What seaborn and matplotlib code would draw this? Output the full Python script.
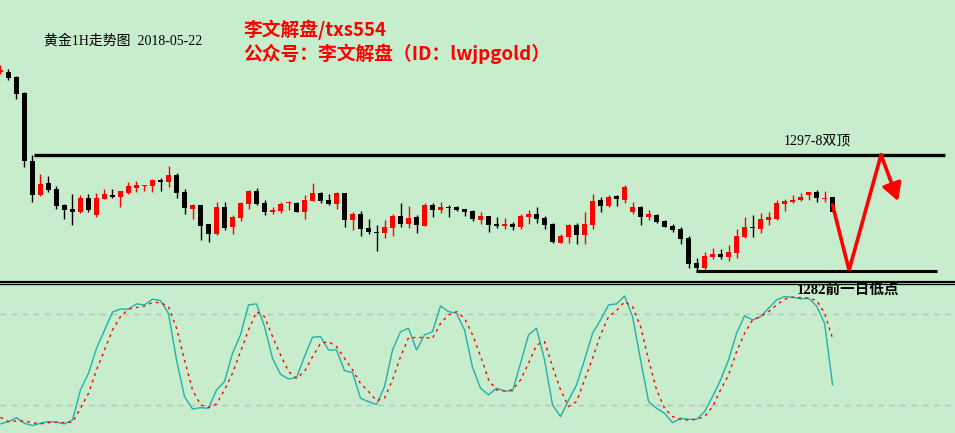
import numpy as np
import matplotlib
matplotlib.use("Agg")
import matplotlib.pyplot as plt
import seaborn as sns

# ---- data (gold 1H, 2018-05-22) ----
opens = [1308.5, 1308.5, 1307.9, 1305.7, 1296.7, 1292.1, 1293.7, 1292.9, 1290.8, 1290.3,
         1289.9, 1291.7, 1289.5, 1291.6, 1292.1, 1291.9, 1292.4, 1293.1, 1293.3, 1293.3,
         1294.1, 1293.9, 1294.8, 1292.5, 1290.3, 1290.8, 1288.3, 1286.9, 1290.5, 1287.9,
         1289.1, 1290.9, 1292.7, 1291.1, 1289.9, 1290.0, 1291.1, 1291.1, 1289.9, 1291.3,
         1292.4, 1291.5, 1290.9, 1292.4, 1288.8, 1289.6, 1287.7, 1287.2, 1287.1, 1287.7,
         1289.3, 1288.3, 1289.2, 1288.0, 1290.8, 1290.1, 1290.5, 1290.5, 1290.3, 1290.0,
         1288.8, 1289.3, 1288.3, 1288.0, 1288.3, 1287.9, 1289.2, 1289.6, 1289.1, 1288.3,
         1285.7, 1286.5, 1288.1, 1286.8, 1288.1, 1291.5, 1290.7, 1292.0, 1291.5, 1289.9,
         1290.5, 1289.2, 1289.5, 1288.7, 1288.0, 1287.6, 1286.4, 1283.1, 1282.4, 1283.9,
         1284.3, 1283.9, 1284.4, 1286.5, 1287.9, 1287.6, 1288.8, 1288.9, 1290.9, 1291.2,
         1291.5, 1292.1, 1292.5, 1291.6, 1291.9]
highs = [1309.5, 1308.9, 1308.0, 1305.9, 1297.5, 1294.9, 1294.7, 1293.3, 1290.9, 1292.3,
         1292.1, 1292.3, 1292.4, 1292.9, 1292.9, 1292.7, 1293.9, 1294.0, 1293.5, 1294.3,
         1294.4, 1296.0, 1295.1, 1292.9, 1290.9, 1290.8, 1288.3, 1291.2, 1291.2, 1289.5,
         1291.2, 1292.8, 1293.1, 1291.5, 1290.5, 1291.2, 1291.3, 1291.2, 1292.1, 1293.7,
         1292.5, 1292.3, 1292.5, 1292.4, 1289.9, 1290.0, 1288.9, 1288.1, 1288.8, 1289.6,
         1291.1, 1290.7, 1289.5, 1291.1, 1291.1, 1291.2, 1290.8, 1290.7, 1290.3, 1290.1,
         1289.9, 1289.3, 1289.2, 1289.1, 1288.5, 1289.6, 1290.1, 1290.5, 1289.3, 1288.4,
         1286.9, 1288.3, 1288.4, 1289.9, 1292.3, 1291.9, 1292.1, 1292.1, 1293.5, 1291.2,
         1290.7, 1290.1, 1289.6, 1288.8, 1288.3, 1287.9, 1286.7, 1283.7, 1284.5, 1285.1,
         1284.9, 1285.5, 1287.6, 1289.2, 1289.5, 1289.7, 1289.9, 1291.5, 1291.6, 1292.1,
         1292.4, 1292.5, 1292.8, 1292.7, 1291.9]
lows = [1308.3, 1307.5, 1304.9, 1295.9, 1291.2, 1292.0, 1292.5, 1290.3, 1288.9, 1288.1,
        1289.7, 1289.9, 1289.2, 1291.6, 1291.7, 1290.5, 1292.3, 1292.5, 1292.7, 1292.5,
        1292.7, 1293.2, 1291.7, 1289.6, 1288.9, 1286.1, 1285.9, 1286.8, 1287.5, 1286.9,
        1288.7, 1290.3, 1290.8, 1289.5, 1289.6, 1289.7, 1290.1, 1289.9, 1288.9, 1291.3,
        1291.1, 1290.8, 1290.3, 1287.9, 1287.5, 1286.7, 1286.9, 1284.7, 1286.4, 1286.7,
        1287.9, 1287.7, 1287.1, 1288.0, 1289.2, 1289.7, 1289.2, 1290.0, 1289.3, 1288.7,
        1288.3, 1287.2, 1287.7, 1287.6, 1287.5, 1287.6, 1288.3, 1288.4, 1287.6, 1285.7,
        1285.7, 1285.7, 1285.6, 1285.6, 1287.6, 1289.9, 1290.5, 1290.7, 1291.1, 1289.6,
        1288.1, 1288.8, 1288.4, 1287.9, 1287.2, 1285.6, 1282.4, 1281.9, 1282.0, 1283.6,
        1283.6, 1283.3, 1283.7, 1286.4, 1286.5, 1287.1, 1288.1, 1288.8, 1290.0, 1291.1,
        1291.3, 1291.5, 1291.2, 1291.2, 1289.9]
closes = [1308.8, 1307.7, 1305.6, 1296.7, 1292.1, 1293.6, 1292.8, 1290.7, 1290.1, 1289.9,
          1291.7, 1290.1, 1291.7, 1292.3, 1291.9, 1292.7, 1293.3, 1293.5, 1293.5, 1294.1,
          1293.9, 1294.8, 1292.4, 1290.4, 1290.8, 1288.0, 1286.9, 1290.5, 1287.7, 1289.2,
          1291.1, 1292.7, 1290.9, 1289.9, 1290.1, 1290.9, 1291.2, 1289.9, 1291.5, 1292.4,
          1291.3, 1290.9, 1292.4, 1288.8, 1289.6, 1287.6, 1287.2, 1287.1, 1287.9, 1289.3,
          1288.3, 1289.1, 1288.1, 1290.8, 1290.1, 1290.5, 1290.4, 1290.1, 1289.9, 1288.9,
          1289.3, 1288.1, 1288.0, 1288.3, 1287.9, 1289.3, 1289.6, 1288.9, 1288.1, 1285.9,
          1286.7, 1288.1, 1286.8, 1288.3, 1291.3, 1290.7, 1291.9, 1291.6, 1293.2, 1290.5,
          1289.2, 1289.6, 1288.5, 1287.9, 1287.5, 1286.3, 1282.9, 1282.4, 1284.0, 1284.3,
          1283.9, 1284.5, 1286.7, 1287.9, 1287.7, 1288.9, 1289.2, 1291.1, 1291.3, 1291.5,
          1291.9, 1292.5, 1291.7, 1291.7, 1289.9]

# stochastic %K / %D
stoch_k = [7.3, 8.8, 11.4, 7.7, 6.2, 7.7, 8.8, 8.4, 7.3, 9.9,
           29.7, 40.7, 57, 69, 81, 83, 83, 86.4, 85.7, 89.5,
           88.6, 80, 49.5, 25.3, 17.1, 18, 17.6, 29.7, 35.2, 53.8,
           66, 85.7, 86.4, 71.4, 50.5, 40, 36.9, 37.8, 51.6, 64.4,
           64.8, 56, 56, 42.4, 41.1, 24.2, 22, 20, 31.9, 56,
           68.1, 70.3, 56, 66, 68.1, 85, 81.3, 80.2, 69.2, 44.6,
           30.8, 26.4, 30.8, 29, 29, 47.3, 66, 70.3, 49.5, 19.8,
           12.1, 23, 33, 49.5, 67, 75.8, 85.7, 86.4, 91.6, 78,
           49.5, 22, 17.6, 14.3, 8.1, 11, 10.3, 10.3, 15.4, 25.3,
           36.3, 49.5, 67, 78.5, 75.8, 78, 83.5, 89, 91.2, 90.8,
           89.7, 90.1, 85, 73.6, 33]
stoch_d = [11.6, 8.8, 9.2, 9.2, 8.1, 7.3, 8.1, 8.4, 8.1, 8.4,
           17.6, 27.5, 42.9, 56, 69.2, 78, 83, 84, 85, 87.3,
           87.3, 84.6, 70.3, 49.5, 29.7, 19.8, 18.2, 20.4, 29.7, 40.7,
           55, 69.2, 81.3, 78, 64.8, 52.7, 41.8, 37.4, 41.8, 51.6,
           60.4, 61.5, 58.2, 50.5, 42.9, 34, 28.6, 22.6, 24.2, 36.3,
           51.6, 64.2, 64.2, 64.2, 63.7, 73.6, 79.1, 81.3, 76.9, 66,
           52, 36.3, 29.7, 29, 29.7, 36.3, 47.3, 59.3, 61.5, 45,
           29.7, 18.7, 22, 36.3, 50.5, 66, 78, 82, 87.9, 84.6,
           71.4, 49.5, 29.7, 17.6, 12.1, 10.3, 9.9, 10.3, 12.1, 18.7,
           29.7, 39.6, 55, 67, 75.8, 78, 81.3, 85.7, 89.5, 90.8,
           90.5, 90.1, 88.6, 80.2, 63.7]

# levels drawn by hand on the chart
double_top = 1297.5
prev_day_low = 1282.0
top_line_span = [4.2, 118.0]
low_line_span = [86.9, 117.1]
path_x = [104, 106.06, 110.06]
path_y = [1290.8, 1282.1, 1297.5]
arrow_tip = (112.2, 1291.3)

BG = "#C7EDCC"
SERIF = ['Liberation Serif', 'Noto Sans CJK SC']

sns.set_style("white")
plt.rcParams['font.family'] = ['Noto Sans CJK SC', 'DejaVu Sans']

fig = plt.figure(figsize=(9.55, 4.33), dpi=100)
fig.patch.set_facecolor(BG)

# ---- price panel ----
ax = fig.add_axes([0, 151 / 433, 1, 282 / 433])
ax.set_facecolor(BG)
idx = np.arange(len(opens))
o = np.array(opens)
h = np.array(highs)
l = np.array(lows)
c = np.array(closes)
colors = np.where(c >= o, "#FF0000", "#000000")

ax.vlines(idx, l, h, colors=colors, linewidth=1.0)
body = np.maximum(np.abs(c - o), 0.15)
ax.bar(idx, body, bottom=np.minimum(o, c), width=0.65, color=colors, linewidth=0)

ax.plot(top_line_span, [double_top, double_top], color="black", lw=2.4, solid_capstyle="butt")
ax.plot(low_line_span, [prev_day_low, prev_day_low], color="black", lw=2.2, solid_capstyle="butt")
ax.plot(path_x, path_y, color="#FF0000", lw=2.6, solid_joinstyle="miter")
ax.annotate("", xy=arrow_tip, xytext=(path_x[-1], path_y[-1]),
            arrowprops=dict(arrowstyle="-|>,head_length=0.75,head_width=0.42",
                            mutation_scale=14, color="#FF0000", lw=2.6, shrinkA=0, shrinkB=0))

ax.set_xlim(-0.06, 119.3)
ax.set_ylim(1280.53, 1318.13)
ax.set_xticks([])
ax.set_yticks([])
for side in ["top", "left", "right"]:
    ax.spines[side].set_visible(False)
ax.spines["bottom"].set_color("black")
ax.spines["bottom"].set_linewidth(1.6)

# ---- stochastic panel ----
ax2 = fig.add_axes([0, 0, 1, 149 / 433])
ax2.set_facecolor(BG)
ax2.axhline(80, color="#BDBDBD", lw=1, ls=(0, (4, 4)))
ax2.axhline(20, color="#BDBDBD", lw=1, ls=(0, (4, 4)))
sns.lineplot(x=idx, y=stoch_k, ax=ax2, color="#20B2AA", lw=1.0)
sns.lineplot(x=idx, y=stoch_d, ax=ax2, color="#FF0000", lw=1.0, linestyle=(0, (2, 3)))
ax2.set_xlim(-0.06, 119.3)
ax2.set_ylim(1.3, 99.5)
ax2.set_xticks([])
ax2.set_yticks([])
ax2.set_xlabel("")
ax2.set_ylabel("")
for side in ["bottom", "left", "right"]:
    ax2.spines[side].set_visible(False)
ax2.spines["top"].set_color("black")
ax2.spines["top"].set_linewidth(0.9)

# ---- texts ----
W, H = 955, 433
fig.text(44 / W, 1 - 41 / H, "黄金1H走势图  2018-05-22", fontsize=10, color="black",
         va="center", ha="left", family=SERIF)
fig.text(243 / W, 1 - 30 / H, "李文解盘/txs554", fontsize=13.5, color="#FF0000",
         va="center", ha="left", fontweight="bold")
fig.text(243 / W, 1 - 54 / H, "公众号：李文解盘（ID：lwjpgold）", fontsize=13.5, color="#FF0000",
         va="center", ha="left", fontweight="bold")
fig.text(784 / W, 1 - 141 / H, "1297-8双顶", fontsize=10, color="black",
         va="center", ha="left", family=SERIF)
fig.text(797 / W, 1 - 290 / H, "1282前一日低点", fontsize=10.5, color="black",
         va="center", ha="left", fontweight="bold", family=SERIF)

fig.savefig("out.png", dpi=100, facecolor=BG)
